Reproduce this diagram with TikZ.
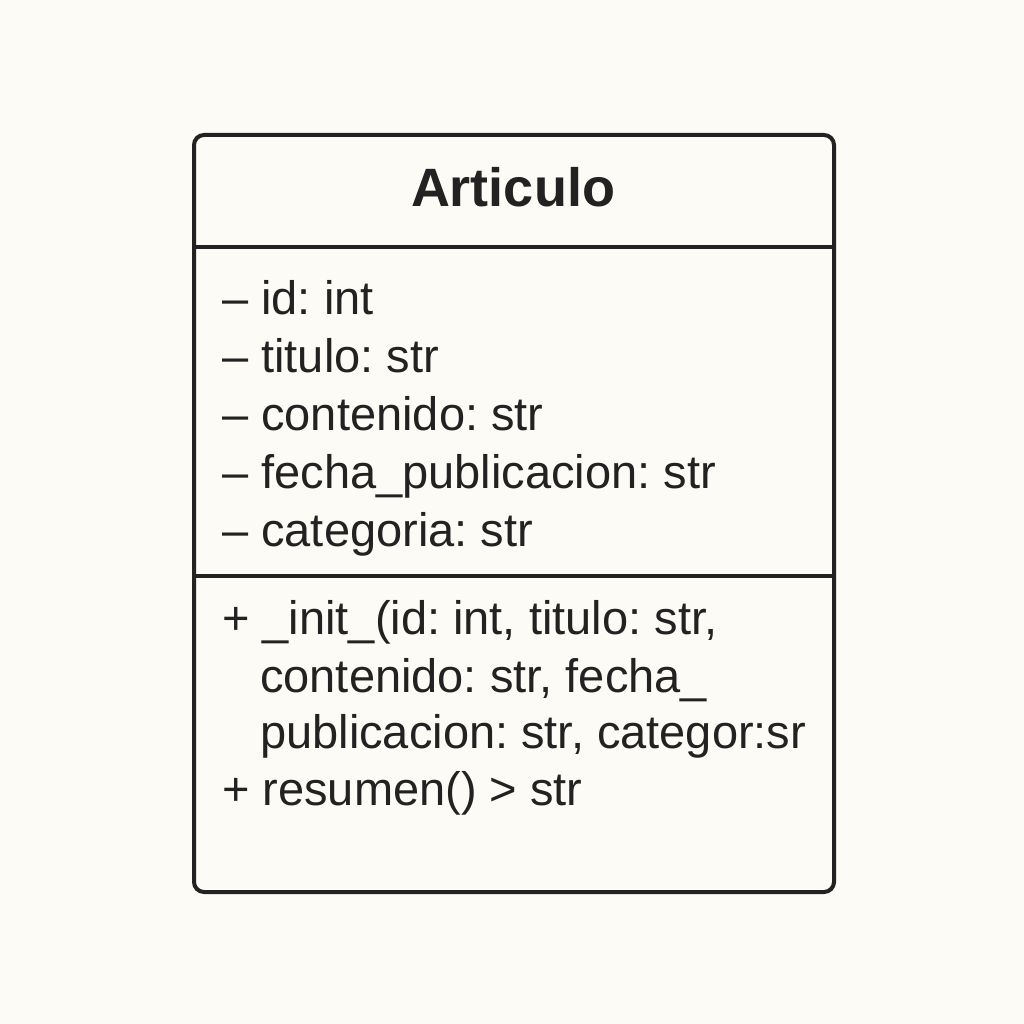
\documentclass[tikz,border=0pt]{standalone}
\usepackage{fontspec}
\setmainfont{Liberation Sans}
\frenchspacing
\definecolor{bgc}{HTML}{FDFBF6}
\definecolor{ink}{HTML}{222222}
\begin{document}
\begin{tikzpicture}[x=1pt,y=-1pt,
  txt/.style={anchor=base west,inner sep=0pt,text=ink,font=\fontsize{47}{52}\selectfont},
  ttl/.style={anchor=base,inner sep=0pt,text=ink,font=\fontsize{54}{60}\selectfont\bfseries},
  frame/.style={draw=ink,line width=4pt,rounded corners=10pt},
  divider/.style={draw=ink,line width=4pt}]
\fill[bgc] (0,0) rectangle (1024,1024);
\useasboundingbox (0,0) rectangle (1024,1024);
\node[frame,minimum width=640pt,minimum height=757pt,anchor=north west,inner sep=0pt] (box) at (192,133) {};
\coordinate (d1l) at (192,247);
\coordinate (d1r) at (832,247);
\coordinate (d2l) at (192,576);
\coordinate (d2r) at (832,576);
\draw[divider] (d1l) -- (d1r);
\draw[divider] (d2l) -- (d2r);
\node[ttl] (title) at (513,207) {Articulo};
\node[txt] (a1) at (222,314) {– id: int};
\node[txt] (a2) at (222,372) {– titulo: str};
\node[txt] (a3) at (222,430) {– contenido: str};
\node[txt] (a4) at (222,488) {– fecha\_publicacion: str};
\node[txt] (a5) at (222,546) {– categoria: str};
\node[txt] (m1) at (222,634) {+ \_init\_(id: int, titulo: str,};
\node[txt] (m2) at (260,692) {contenido: str, fecha\_};
\node[txt] (m3) at (260,748) {publicacion: str, categor:sr};
\node[txt] (m4) at (222,805) {+ resumen() > str};
\end{tikzpicture}
\end{document}
